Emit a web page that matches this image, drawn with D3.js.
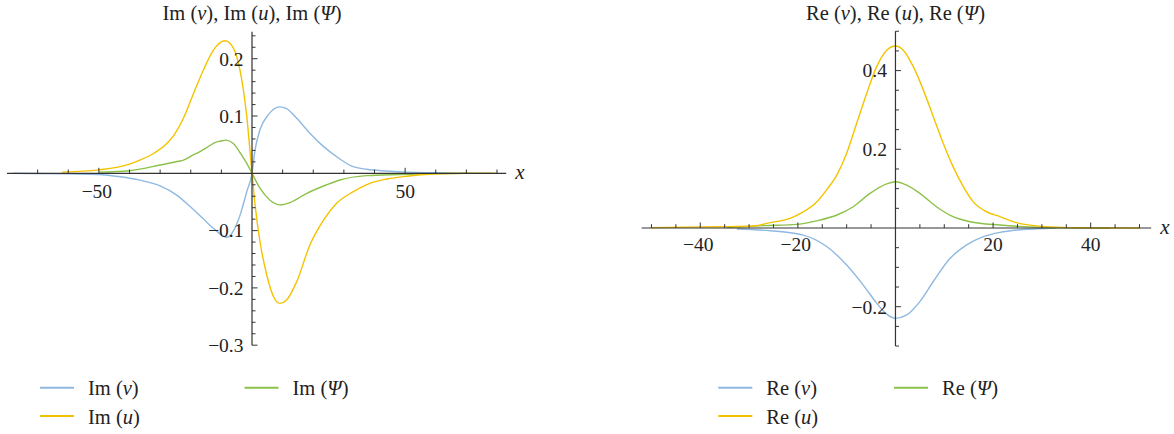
<!DOCTYPE html>
<html><head><meta charset="utf-8">
<script src="https://cdn.jsdelivr.net/npm/d3@7"></script>
<style>
body{margin:0;background:#fff}
svg{display:block}
text{font-family:"Liberation Serif","Times New Roman",serif;fill:#222}
</style>
</head><body>
<svg id="c" width="1174" height="434"></svg>
<script>
// ---------- data: imaginary parts (left panel) ----------
const imVx = [-78,-60,-50,-43,-36.6,-30,-24.6,-20.2,-16,-12.6,-8.8,-8.2,-6.6,-3.9,-1.7,0,1.0,2.6,5.3,9.1,11.3,14.6,18.9,23.3,28.7,32,37.4,44,50.5,60,70,78];
const imVy = [0,-0.001,-0.002,-0.006,-0.012,-0.022,-0.038,-0.058,-0.079,-0.096,-0.111,-0.112,-0.105,-0.073,-0.032,0,0.041,0.076,0.102,0.116,0.113,0.096,0.070,0.047,0.025,0.014,0.007,0.004,0.002,0.001,0,0];
const imUx = [-62,-50,-40,-36.6,-32,-28,-25.7,-22.4,-19.2,-15.9,-12.6,-9.9,-8.8,-7.2,-5,-2.8,-1.7,0,1.0,2.6,4.8,7,9.1,11.3,14.6,18.9,23.3,27.7,33.1,38.5,44,50.5,59,70,80];
const imUy = [0.002,0.006,0.016,0.023,0.035,0.051,0.065,0.096,0.138,0.180,0.215,0.230,0.2315,0.227,0.204,0.145,0.099,0,-0.055,-0.119,-0.177,-0.215,-0.227,-0.221,-0.189,-0.125,-0.082,-0.052,-0.032,-0.0175,-0.010,-0.005,-0.0012,0,0];
const imPx = [-50,-40,-30,-24,-22.4,-19.2,-17,-14.8,-11.5,-10.4,-8.5,-6.1,-3.4,-1.7,0,2.6,5.9,9.1,12.4,17.9,24.4,28.7,37.4,48.3,60,70];
const imPy = [0.002,0.0045,0.0145,0.021,0.023,0.032,0.038,0.045,0.055,0.056,0.058,0.052,0.032,0.0175,0,-0.026,-0.047,-0.055,-0.051,-0.035,-0.020,-0.0117,-0.004,-0.002,-0.0005,0];

// ---------- data: real parts (right panel) ----------
const reVx = [-32.5,-25.7,-18.9,-14.1,-10,-6.6,-3.85,-1.8,0,2.3,5,7.75,11.2,14.6,18,21.4,25,29,33];
const reVy = [-0.0025,-0.007,-0.018,-0.047,-0.094,-0.145,-0.191,-0.219,-0.2296,-0.221,-0.187,-0.136,-0.077,-0.043,-0.022,-0.011,-0.005,-0.002,0];
const reUx = [-50,-36,-29.1,-25.7,-21.6,-18.9,-16.1,-14.1,-12,-10,-7.95,-5.9,-3.85,-1.8,0,1.6,3.65,5.7,7.75,9.8,11.8,13.9,15.9,18.7,21.4,25,30,35,50];
const reUy = [0.001,0.003,0.005,0.0135,0.0246,0.041,0.067,0.097,0.135,0.19,0.266,0.342,0.41,0.452,0.4625,0.452,0.41,0.351,0.283,0.215,0.156,0.105,0.067,0.041,0.029,0.013,0.004,0.001,0];
const rePx = [-34.6,-27,-20.2,-15.5,-12,-8.65,-5.2,-1.8,0,2.3,5,8.4,11.8,15.3,21.4,30,44];
const rePy = [0.001,0.006,0.0093,0.020,0.033,0.054,0.088,0.112,0.1177,0.109,0.088,0.054,0.0287,0.016,0.0076,0.002,0];

// ---------- ticks / labels ----------
const imXMinor = d3.range(-7, 9).map(i => i * 10);
const imXLabels = [-50, 50];
const imYMinor = d3.range(-15, 13).map(i => +(i * 0.02).toFixed(2));
const imYLabels = [-0.3, -0.2, -0.1, 0.1, 0.2];
const reXMinor = d3.range(-10, 11).map(i => i * 5);
const reXLabels = [-40, -20, 20, 40];
const reYMinor = d3.range(-6, 11).map(i => +(i * 0.05).toFixed(2));
const reYLabels = [-0.2, 0.2, 0.4];
const reYMajor = [-0.2, 0.2, 0.4];

const colors = {v: "#8fb9e0", u: "#f3c300", psi: "#8cc14a"};

const svg = d3.select("#c");
svg.append("rect").attr("width", 1174).attr("height", 434).attr("fill", "#fff");

function panel(o) {
  const x = d3.scaleLinear().domain(o.xDomain).range(o.xRange);
  const y = d3.scaleLinear().domain(o.yDomain).range(o.yRange);
  const g = svg.append("g");
  const x0 = x(0), y0 = y(0);
  const line = d3.line().x(d => x(d[0])).y(d => y(d[1])).curve(d3.curveMonotoneX);
  o.series.forEach(s => {
    g.append("path").attr("d", line(d3.zip(s.xs, s.ys)))
      .attr("fill", "none").attr("stroke", s.color).attr("stroke-width", 1.4)
      .attr("stroke-linejoin", "round");
  });
  const ax = "#333";
  g.append("line").attr("x1", o.xRange[0]).attr("x2", o.xRange[1]).attr("y1", y0).attr("y2", y0)
    .attr("stroke", ax).attr("stroke-width", 1.2);
  g.append("line").attr("x1", x0).attr("x2", x0).attr("y1", o.yRange[0]).attr("y2", o.yRange[1])
    .attr("stroke", ax).attr("stroke-width", 1.2);
  o.xMinor.filter(t => t !== 0).forEach(t => {
    const major = o.xMajor.includes(t);
    g.append("line").attr("x1", x(t)).attr("x2", x(t)).attr("y1", y0).attr("y2", y0 - (major ? 5.5 : 3.8))
      .attr("stroke", ax).attr("stroke-width", 1);
  });
  o.yMinor.filter(t => t !== 0).forEach(t => {
    const major = o.yMajor.some(m => Math.abs(m - t) < 1e-9);
    g.append("line").attr("y1", y(t)).attr("y2", y(t)).attr("x1", x0).attr("x2", x0 + (major ? 5.5 : 3.5))
      .attr("stroke", ax).attr("stroke-width", 1);
  });
  const fx = d3.format("d"), fy = d3.format(".1f");
  o.xLabels.forEach(t => {
    g.append("text").attr("x", x(t) + (t < 0 ? -2 : 0)).attr("y", y0 + o.xLabDy).attr("text-anchor", "middle")
      .attr("font-size", 19.5).text(fx(t));
  });
  o.yLabels.forEach(t => {
    g.append("text").attr("x", x0 - 8.5).attr("y", y(t)).attr("dy", "0.35em").attr("text-anchor", "end")
      .attr("font-size", 19.5).text(fy(t));
  });
  g.append("text").attr("x", o.xRange[1] + 9).attr("y", y0 + 6).attr("font-size", 21)
    .attr("font-style", "italic").text("x");
  const t = g.append("text").attr("x", x0).attr("y", 20).attr("text-anchor", "middle").attr("font-size", 20.5);
  o.title.forEach(p => t.append("tspan").attr("font-style", p[1] ? "italic" : "normal").text(p[0]));
  o.legend.forEach(l => {
    g.append("line").attr("x1", l.x).attr("x2", l.x + 34).attr("y1", l.y).attr("y2", l.y)
      .attr("stroke", l.color).attr("stroke-width", 2);
    const tt = g.append("text").attr("x", l.x + 48).attr("y", l.y + 7.5).attr("font-size", 20.5);
    l.parts.forEach(p => tt.append("tspan").attr("font-style", p[1] ? "italic" : "normal").text(p[0]));
  });
}

panel({
  xDomain: [-80, 83], xRange: [7, 506.2],
  yDomain: [-0.3, 0.247], yRange: [345.2, 31.8],
  xMinor: imXMinor, xMajor: imXLabels, xLabels: imXLabels, xLabDy: 25,
  yMinor: imYMinor, yMajor: imYLabels, yLabels: imYLabels,
  series: [
    {xs: imVx, ys: imVy, color: colors.v},
    {xs: imPx, ys: imPy, color: colors.psi},
    {xs: imUx, ys: imUy, color: colors.u}
  ],
  title: [["Im ("],["ν",1],["), Im ("],["u",1],["), Im ("],["Ψ",1],[")"]],
  legend: [
    {x: 40, y: 387.7, color: colors.v, parts: [["Im ("],["ν",1],[")"]]},
    {x: 244.5, y: 387.7, color: colors.psi, parts: [["Im ("],["Ψ",1],[")"]]},
    {x: 40, y: 416, color: colors.u, parts: [["Im ("],["u",1],[")"]]}
  ]
});

panel({
  xDomain: [-52, 52.4], xRange: [641.7, 1151.2],
  yDomain: [-0.3, 0.5], yRange: [346.05, 31.25],
  xMinor: reXMinor, xMajor: reXLabels, xLabels: reXLabels, xLabDy: 22.5,
  yMinor: reYMinor, yMajor: reYMajor, yLabels: reYLabels,
  series: [
    {xs: reVx, ys: reVy, color: colors.v},
    {xs: rePx, ys: rePy, color: colors.psi},
    {xs: reUx, ys: reUy, color: colors.u}
  ],
  title: [["Re ("],["ν",1],["), Re ("],["u",1],["), Re ("],["Ψ",1],[")"]],
  legend: [
    {x: 718.3, y: 387.7, color: colors.v, parts: [["Re ("],["ν",1],[")"]]},
    {x: 894, y: 387.7, color: colors.psi, parts: [["Re ("],["Ψ",1],[")"]]},
    {x: 718.3, y: 416, color: colors.u, parts: [["Re ("],["u",1],[")"]]}
  ]
});
</script>
</body></html>
